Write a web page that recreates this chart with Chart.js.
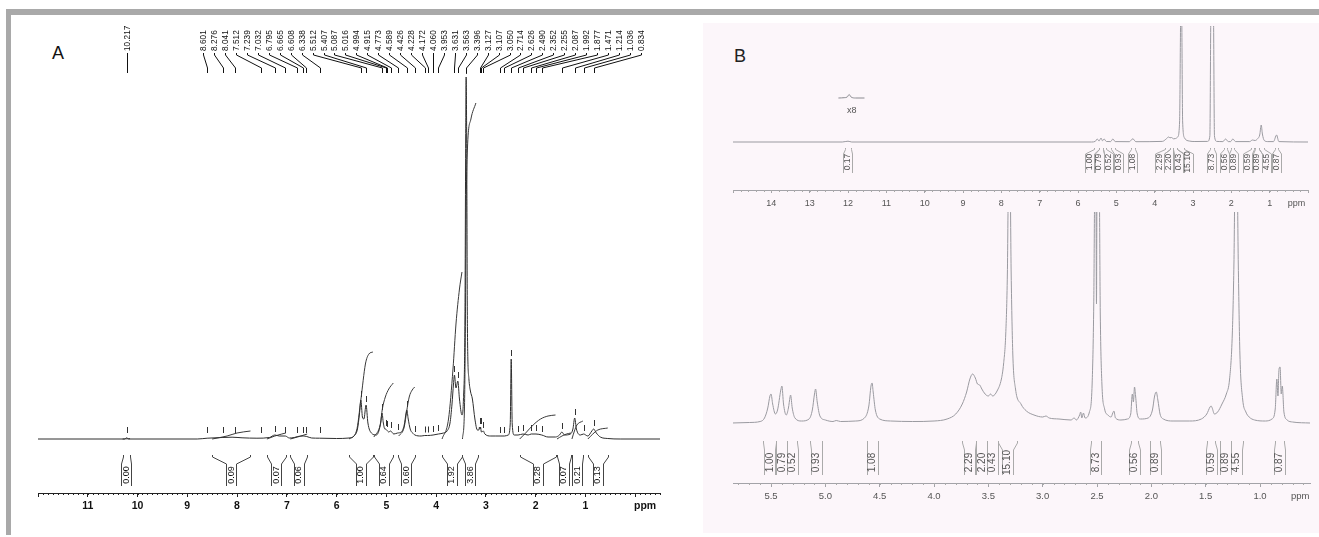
<!DOCTYPE html>
<html><head><meta charset="utf-8">
<script src="https://cdn.jsdelivr.net/npm/chart.js@4.4.1/dist/chart.umd.min.js"></script>
<style>
html,body{margin:0;padding:0;background:#fff;width:1319px;height:537px;overflow:hidden;position:relative;}
.abs{position:absolute;}
#bar{left:6px;top:9px;width:5px;height:526px;background:#a9a9a9;}
#band{left:6px;top:9px;width:1313px;height:6px;background:#a9a9a9;}
#pink{left:703px;top:23px;width:616px;height:510px;background:#fcf6fa;}
canvas{position:absolute;left:0;top:0;pointer-events:none;}
.lab{font-family:"Liberation Sans",Arial,sans-serif;font-size:18px;line-height:18px;color:#111;}
</style></head><body>
<div class="abs" id="band"></div>
<div class="abs" id="bar"></div>
<div class="abs" id="pink"></div>
<div class="abs lab" style="left:52px;top:44px">A</div>
<div class="abs lab" style="left:734px;top:47px;color:#222">B</div>
<canvas id="cA" width="1319" height="537"></canvas>
<canvas id="cBt" width="1319" height="537"></canvas>
<canvas id="cBb" width="1319" height="537"></canvas>
<script>
// ---------------- DATA ----------------
// Panel A: picked peaks (ppm)
const aPeakPpm = [10.217, 8.601, 8.276, 8.041, 7.512, 7.239, 7.032, 6.795, 6.665, 6.608, 6.338,
  5.512, 5.407, 5.087, 5.016, 4.994, 4.915, 4.773, 4.589, 4.426, 4.228, 4.172, 4.060, 3.953,
  3.631, 3.563, 3.396, 3.127, 3.107, 3.050, 2.714, 2.626, 2.490, 2.352, 2.255, 2.087, 1.992,
  1.877, 1.471, 1.214, 1.036, 0.834];
// Panel A spectrum trace [ppm, intensity]
const aSpectrum = [[12,0],[10.26,0],[10.217,1.2],[10.18,0],[8.8,0],[8.6,0.8],[8.3,1.5],[8.1,1.8],[7.9,1.2],
  [7.6,0.8],[7.35,1.5],[7.24,4],[7.15,3],[7.03,3],[6.95,1],[6.85,1.5],[6.78,2.5],[6.67,3],[6.6,2.5],[6.5,1],
  [6.34,0.8],[6.0,0.5],[5.75,1],[5.65,3],[5.58,10],[5.54,25],[5.512,39],[5.48,22],[5.45,20],[5.407,34],
  [5.37,16],[5.3,6],[5.2,4],[5.15,8],[5.11,17],[5.087,26],[5.06,16],[5.03,10],[5.016,10],[4.994,9],[4.95,7],
  [4.915,8],[4.85,5],[4.773,6],[4.70,7],[4.64,14],[4.60,27],[4.589,29],[4.56,20],[4.52,10],[4.45,5],[4.426,4],
  [4.3,3],[4.228,3.5],[4.172,3.5],[4.06,4],[3.953,5],[3.85,6],[3.78,8],[3.72,16],[3.68,35],[3.65,55],[3.631,64],
  [3.60,51],[3.563,58],[3.53,40],[3.48,24],[3.45,40],[3.42,120],[3.405,300],[3.396,362],[3.385,300],[3.37,110],
  [3.34,60],[3.31,48],[3.27,40],[3.22,20],[3.17,9],[3.14,9],[3.127,12],[3.115,10],[3.107,12],[3.09,7],[3.05,8],
  [3.02,5],[2.9,3],[2.8,3],[2.714,3],[2.626,3],[2.55,4],[2.51,15],[2.490,80],[2.47,15],[2.43,4],[2.352,4],
  [2.255,5],[2.15,4],[2.087,5],[1.992,5],[1.877,4],[1.75,2],[1.6,2],[1.52,4],[1.471,7],[1.42,4],[1.30,5],
  [1.25,10],[1.214,21],[1.18,10],[1.10,4],[1.036,5],[0.95,3],[0.87,8],[0.834,10],[0.78,6],[0.70,2],[0.55,0.5],
  [0.3,0],[-0.5,0]];
// Panel A integrals
const aIntValues = [0.00, 0.09, 0.07, 0.06, 1.00, 0.64, 0.60, 1.92, 3.86, 0.28, 0.07, 0.21, 0.13];
const aIntStart  = [10.30, 8.50, 7.40, 6.93, 5.75, 5.25, 4.77, 3.88, 3.48, 2.32, 1.57, 1.27, 0.95];
const aIntEnd    = [10.15, 7.73, 7.02, 6.59, 5.27, 4.86, 4.43, 3.48, 3.15, 1.60, 1.29, 1.05, 0.55];
const aIntCurves = [
  [[10.30,0],[10.15,0.3]],
  [[8.50,0],[8.2,3],[8.0,6],[7.73,8]],
  [[7.40,0],[7.24,3],[7.1,5],[7.02,6]],
  [[6.93,0],[6.75,2.5],[6.59,5]],
  [[5.75,0],[5.60,8],[5.51,40],[5.42,75],[5.35,85],[5.27,87]],
  [[5.25,2],[5.12,15],[5.08,30],[5.02,42],[4.95,50],[4.86,56]],
  [[4.75,3],[4.64,12],[4.59,28],[4.54,42],[4.48,49],[4.43,52]],
  [[3.88,0],[3.75,20],[3.66,70],[3.60,115],[3.53,150],[3.48,167]],
  [[3.47,0],[3.43,30],[3.41,120],[3.395,230],[3.37,290],[3.30,320],[3.20,336]],
  [[2.32,0],[2.2,6],[2.05,14],[1.9,20],[1.75,23],[1.6,24]],
  [[1.57,0],[1.47,3],[1.38,5],[1.29,6]],
  [[1.27,0],[1.22,8],[1.17,14],[1.05,18]],
  [[0.95,0],[0.85,5],[0.75,9],[0.55,11]]];
const aTicks = [12,11,10,9,8,7,6,5,4,3,2,1,0];

// Panel B integrals (shared by both traces)
const bIntValues = [1.00, 0.79, 0.52, 0.93, 1.08, 2.29, 2.20, 0.43, 15.10, 8.73, 0.56, 0.89, 0.59, 0.89, 4.55, 0.87];
const bIntStart  = [5.57, 5.45, 5.35, 5.14, 4.62, 3.74, 3.61, 3.51, 3.41, 2.56, 2.19, 2.01, 1.49, 1.37, 1.27, 0.86];
const bIntEnd    = [5.45, 5.35, 5.26, 5.03, 4.52, 3.61, 3.51, 3.41, 3.24, 2.46, 2.12, 1.92, 1.41, 1.27, 1.16, 0.78];
const bTopExtraValue = [0.17];
const bTopExtraStart = [12.08];
const bTopExtraEnd = [11.93];
// Panel B, full range trace
const bTopSpectrum = [[15,0],[12.15,0],[12.0,0.8],[11.9,0],[5.65,0],[5.55,0.6],[5.50,3],[5.45,1],[5.40,4],
  [5.36,1.2],[5.32,3],[5.26,0.5],[5.15,0.4],[5.09,3],[5.03,0.4],[4.66,0.3],[4.57,3.2],[4.49,0.3],[3.80,0.6],
  [3.70,3],[3.64,5],[3.60,4.2],[3.56,4.5],[3.51,3.2],[3.46,3.4],[3.40,5],[3.35,20],[3.315,140],[3.30,140],
  [3.27,20],[3.22,4],[3.10,1],[2.95,0.5],[2.62,0.6],[2.56,6],[2.53,140],[2.47,140],[2.44,6],[2.38,0.6],
  [2.22,0.4],[2.15,3],[2.08,0.4],[2.02,0.4],[1.96,3],[1.89,0.4],[1.52,0.4],[1.45,2],[1.38,1.5],[1.31,3.5],
  [1.26,7],[1.22,17],[1.19,8],[1.14,1.5],[1.05,0.4],[0.90,0.4],[0.82,7],[0.76,0.4],[0,0]];
// x8 inset around 12 ppm
const bInset = [[12.25,44],[12.10,44.3],[12.02,45],[11.97,47.5],[11.92,45],[11.80,44],[11.57,44]];
const bTopTicks = [15,14,13,12,11,10,9,8,7,6,5,4,3,2,1,0];
// Panel B, expanded trace
const bBottomSpectrum = [[5.86,1],[5.70,1.5],[5.60,2.5],[5.56,6],[5.53,16],[5.51,28],[5.50,30],[5.485,20],
  [5.46,10],[5.44,14],[5.41,34],[5.40,38],[5.385,20],[5.36,9],[5.34,16],[5.325,27],[5.32,29],[5.305,16],
  [5.28,6],[5.22,3],[5.15,5],[5.12,14],[5.10,30],[5.09,35],[5.075,22],[5.05,8],[5.0,4],[4.93,2.5],[4.90,3.5],
  [4.86,2.5],[4.72,3],[4.64,6],[4.60,18],[4.58,38],[4.57,41],[4.56,32],[4.54,14],[4.50,5],[4.40,3],[4.20,2.5],
  [4.00,3],[3.88,5],[3.80,10],[3.74,20],[3.70,32],[3.67,45],[3.645,50],[3.62,46],[3.60,40],[3.58,39],[3.56,35],
  [3.53,30],[3.50,28],[3.48,30],[3.46,28],[3.42,33],[3.38,45],[3.36,60],[3.34,90],[3.325,150],[3.315,240],
  [3.30,240],[3.29,150],[3.275,70],[3.25,35],[3.20,20],[3.15,13],[3.08,9],[3.00,7],[2.97,8],[2.94,6],[2.85,5],
  [2.74,4],[2.71,6],[2.69,4],[2.66,9],[2.65,12],[2.64,6],[2.625,11],[2.61,6],[2.57,12],[2.545,40],[2.53,120],
  [2.52,240],[2.51,240],[2.505,120],[2.50,240],[2.49,240],[2.48,240],[2.47,110],[2.455,40],[2.43,15],[2.40,9],
  [2.37,7],[2.355,11],[2.345,13],[2.33,6],[2.28,4],[2.22,5],[2.19,10],[2.175,30],[2.165,22],[2.155,37],
  [2.145,28],[2.13,10],[2.10,5],[2.03,6],[1.99,14],[1.97,28],[1.955,32],[1.94,24],[1.92,10],[1.89,5],[1.80,3],
  [1.65,3],[1.54,5],[1.49,10],[1.46,17],[1.45,18],[1.44,16],[1.42,10],[1.39,12],[1.35,20],[1.31,30],[1.28,45],
  [1.255,90],[1.24,160],[1.23,240],[1.21,240],[1.20,160],[1.185,70],[1.16,25],[1.13,12],[1.10,7],[1.05,4],
  [0.95,3],[0.89,5],[0.86,15],[0.845,45],[0.835,28],[0.825,55],[0.815,57],[0.805,30],[0.795,38],[0.78,12],
  [0.75,4],[0.70,2],[0.54,1]];
const bBottomTicks = [5.5,5.0,4.5,4.0,3.5,3.0,2.5,2.0,1.5,1.0];

// ---------------- HELPERS ----------------
const SANS = '"Liberation Sans", Arial, sans-serif';
const NARROW = '"Liberation Sans Narrow", "Liberation Sans", Arial, sans-serif';
const pts = arr => arr.slice().sort((a,b)=>b[0]-a[0]).map(([x,y])=>({x,y}));
function interpAt(spec, p){
  const s = spec.slice().sort((a,b)=>b[0]-a[0]);
  for (let i=0;i<s.length-1;i++){ const a=s[i], b=s[i+1];
    if (p<=a[0] && p>=b[0]) { const t=(a[0]-p)/((a[0]-b[0])||1); return a[1]+(b[1]-a[1])*t; } }
  return 0;
}
function spread(centers, gap){
  const idx = centers.map((c,i)=>i).sort((a,b)=>centers[a]-centers[b]);
  let cl = idx.map(i=>({m:[i], s:centers[i]}));
  let changed = true;
  while (changed){
    changed = false;
    for (let k=0;k<cl.length-1;k++){
      const A=cl[k], B=cl[k+1];
      const aEnd = A.s/A.m.length + (A.m.length-1)*gap/2;
      const bSt = B.s/B.m.length - (B.m.length-1)*gap/2;
      if (bSt - aEnd < gap - 1e-6){ A.m = A.m.concat(B.m); A.s += B.s; cl.splice(k+1,1); changed = true; break; }
    }
  }
  const out = [];
  cl.forEach(c=>{ const n=c.m.length, mean=c.s/n; c.m.forEach((i,j)=>{ out[i] = mean + (j-(n-1)/2)*gap; }); });
  return out;
}

const nmrPlugin = {
  id: 'nmr',
  afterDraw(chart, args, o){
    const ctx = chart.ctx, xs = chart.scales.x, ys = chart.scales.y, ca = chart.chartArea;
    const X = v => xs.getPixelForValue(v), Y = v => ys.getPixelForValue(v);
    const R = v => Math.round(v)+0.5;
    ctx.save(); ctx.lineWidth = 1;
    if (o.minor){
      const m = o.minor; ctx.strokeStyle = m.color; ctx.beginPath();
      const lo = Math.min(xs.min, xs.max), hi = Math.max(xs.min, xs.max);
      for (let n=Math.ceil(lo/m.step-1e-6); n<=Math.floor(hi/m.step+1e-6); n++){
        const px = R(X(n*m.step)); ctx.moveTo(px, ca.bottom); ctx.lineTo(px, ca.bottom+m.len);
      }
      ctx.stroke();
    }
    if (o.picks){
      const P = o.picks; ctx.strokeStyle = P.color; ctx.beginPath();
      P.ppm.forEach(p=>{ const h = interpAt(P.spec, p); const a = Math.max(h+P.gap, P.min);
        const x = R(X(p)); ctx.moveTo(x, Y(a)); ctx.lineTo(x, Y(a+P.len)); });
      ctx.stroke();
    }
    if (o.peaks){
      const P = o.peaks; ctx.font = P.font; ctx.fillStyle = P.color; ctx.strokeStyle = P.color;
      const n = P.ppm.length;
      P.ppm.forEach((p,i)=>{
        const lp = i < P.fixed ? p : P.from + (P.to-P.from)*(i-P.fixed)/(n-1-P.fixed);
        const xl = R(X(lp)), xp = R(X(p));
        ctx.save(); ctx.translate(xl, Y(P.yText)); ctx.rotate(-Math.PI/2);
        ctx.textAlign='left'; ctx.textBaseline='middle'; ctx.fillText(p.toFixed(3), 0, 0); ctx.restore();
        ctx.beginPath(); ctx.moveTo(xl, Y(P.y0)); ctx.lineTo(xl, Y(P.y1)); ctx.lineTo(xp, Y(P.y2)); ctx.lineTo(xp, Y(P.y3)); ctx.stroke();
      });
    }
    (o.ints||[]).forEach(I=>{
      ctx.font = I.font; ctx.fillStyle = I.color; ctx.strokeStyle = I.lineColor;
      const centers = I.start.map((s,i)=>(X(s)+X(I.end[i]))/2);
      const pos = spread(centers, I.gap);
      I.values.forEach((v,i)=>{
        const a = R(X(I.start[i])), b = R(X(I.end[i])), xl = pos[i];
        const l = R(xl - I.half), r = R(xl + I.half);
        ctx.beginPath();
        ctx.moveTo(a, Y(I.yTop)); ctx.lineTo(a, Y(I.yTop2)); ctx.lineTo(l, Y(I.ySl)); ctx.lineTo(l, Y(I.yBot));
        ctx.moveTo(b, Y(I.yTop)); ctx.lineTo(b, Y(I.yTop2)); ctx.lineTo(r, Y(I.ySl)); ctx.lineTo(r, Y(I.yBot));
        ctx.stroke();
        ctx.save(); ctx.translate(xl, Y(I.yText)); ctx.rotate(-Math.PI/2);
        ctx.textAlign='center'; ctx.textBaseline='middle'; ctx.fillText(v.toFixed(2), 0, 0); ctx.restore();
      });
    });
    (o.texts||[]).forEach(t=>{
      ctx.font = t.font; ctx.fillStyle = t.color; ctx.textAlign='center'; ctx.textBaseline='middle';
      ctx.fillText(t.text, X(t.x), Y(t.y));
    });
    ctx.restore();
  }
};

function makeChart(id, c){
  const W = 1319, H = 537, AX = 44;
  return new Chart(document.getElementById(id), {
    type: 'line',
    data: { datasets: c.datasets.map(d=>Object.assign({
      pointRadius: 0, borderWidth: 1, fill: false, cubicInterpolationMode: 'monotone', borderColor: c.lineColor
    }, d)) },
    options: {
      responsive: false, animation: false, events: [],
      layout: { autoPadding: false, padding: { left: c.left, right: W - c.right, top: c.top, bottom: H - c.bottom - AX } },
      plugins: { legend: { display: false }, tooltip: { enabled: false }, nmr: c.nmr },
      scales: {
        x: {
          type: 'linear', reverse: true, min: c.xmin, max: c.xmax,
          afterBuildTicks: s => { s.ticks = c.ticks.map(v=>({value:v})); },
          afterFit: s => { s.height = AX; s.paddingLeft = 0; s.paddingRight = 0; },
          border: { display: true, color: c.axisColor, width: 1 },
          grid: { display: true, drawOnChartArea: false, drawTicks: true, tickLength: c.tickLen,
                  tickColor: ctx => (ctx.tick && ctx.tick.value === c.ppmAt) ? 'rgba(0,0,0,0)' : c.axisColor },
          ticks: { autoSkip: false, maxRotation: 0, minRotation: 0, padding: c.tickPad, color: c.tickColor,
                   font: c.tickFont, callback: v => c.fmt(v) }
        },
        y: { type: 'linear', display: false, min: c.ymin, max: c.ymax }
      }
    },
    plugins: [nmrPlugin]
  });
}

// ---------------- PANEL A ----------------
const aPpmAt = -0.2;
makeChart('cA', {
  left: 38, right: 660, top: 20, bottom: 493, xmin: -0.5, xmax: 12, ymin: -54, ymax: 419,
  ticks: aTicks.concat([aPpmAt]), ppmAt: aPpmAt, tickLen: 4, tickPad: 3,
  axisColor: '#222', tickColor: '#111', lineColor: '#2e2e2e',
  tickFont: { family: NARROW, size: 10.5, weight: 'bold' },
  fmt: v => v === aPpmAt ? 'ppm' : ((v === 12 || v === 0) ? '' : String(v)),
  datasets: [{ data: pts(aSpectrum) }].concat(aIntCurves.map(cv => ({ data: pts(cv), borderColor: '#3a3a3a' }))),
  nmr: {
    minor: { step: 0.1, len: 2, color: '#222' },
    picks: { ppm: aPeakPpm, spec: aSpectrum, gap: 3, len: 6, min: 6, color: '#333' },
    peaks: { ppm: aPeakPpm, fixed: 1, from: 8.681, to: -0.114, yText: 388, y0: 386, y1: 384, y2: 371, y3: 366,
             font: '8.3px ' + SANS, color: '#111' },
    ints: [{ values: aIntValues, start: aIntStart, end: aIntEnd, gap: 10, half: 5,
             yTop: -16, yTop2: -18, ySl: -25, yBot: -47, yText: -36,
             font: '9px ' + SANS, color: '#111', lineColor: '#444' }]
  }
});

// ---------------- PANEL B (top, full range) ----------------
const bTopPpmAt = 0.3;
makeChart('cBt', {
  left: 733, right: 1308, top: 26, bottom: 190, xmin: 0, xmax: 15, ymin: -48, ymax: 116,
  ticks: bTopTicks.concat([bTopPpmAt]), ppmAt: bTopPpmAt, tickLen: 3, tickPad: 5,
  axisColor: '#a3a3a8', tickColor: '#555', lineColor: '#9a9aa0',
  tickFont: { family: SANS, size: 9 },
  fmt: v => v === bTopPpmAt ? 'ppm' : ((v === 15 || v === 0) ? '' : String(v)),
  datasets: [{ data: pts(bTopSpectrum) }, { data: pts(bInset), borderColor: '#8a8a90' }],
  nmr: {
    minor: { step: 0.2, len: 2, color: '#aaa' },
    ints: [
      { values: bIntValues, start: bIntStart, end: bIntEnd, gap: 9.6, half: 4.5,
        yTop: -6, yTop2: -7.5, ySl: -12, yBot: -31, yText: -20,
        font: '8.5px ' + SANS, color: '#555', lineColor: '#aaa' },
      { values: bTopExtraValue, start: bTopExtraStart, end: bTopExtraEnd, gap: 9.6, half: 4.5,
        yTop: -6, yTop2: -7.5, ySl: -12, yBot: -31, yText: -20,
        font: '8.5px ' + SANS, color: '#555', lineColor: '#aaa' }],
    texts: [{ text: 'x8', x: 11.9, y: 31, font: '9px ' + SANS, color: '#555' }]
  }
});

// ---------------- PANEL B (bottom, expansion) ----------------
const bBotPpmAt = 0.63;
makeChart('cBb', {
  left: 733, right: 1310, top: 212, bottom: 483, xmin: 0.54, xmax: 5.85, ymin: -59, ymax: 212,
  ticks: bBottomTicks.concat([bBotPpmAt]), ppmAt: bBotPpmAt, tickLen: 4, tickPad: 4,
  axisColor: '#a3a3a8', tickColor: '#555', lineColor: '#9a9aa0',
  tickFont: { family: SANS, size: 9.5 },
  fmt: v => v === bBotPpmAt ? 'ppm' : v.toFixed(1),
  datasets: [{ data: pts(bBottomSpectrum) }],
  nmr: {
    minor: { step: 0.1, len: 2, color: '#aaa' },
    ints: [{ values: bIntValues, start: bIntStart, end: bIntEnd, gap: 10, half: 5.5,
             yTop: -17, yTop2: -19, ySl: -26, yBot: -51, yText: -38.5,
             font: '10px ' + SANS, color: '#555', lineColor: '#aaa' }]
  }
});
</script>
</body></html>
